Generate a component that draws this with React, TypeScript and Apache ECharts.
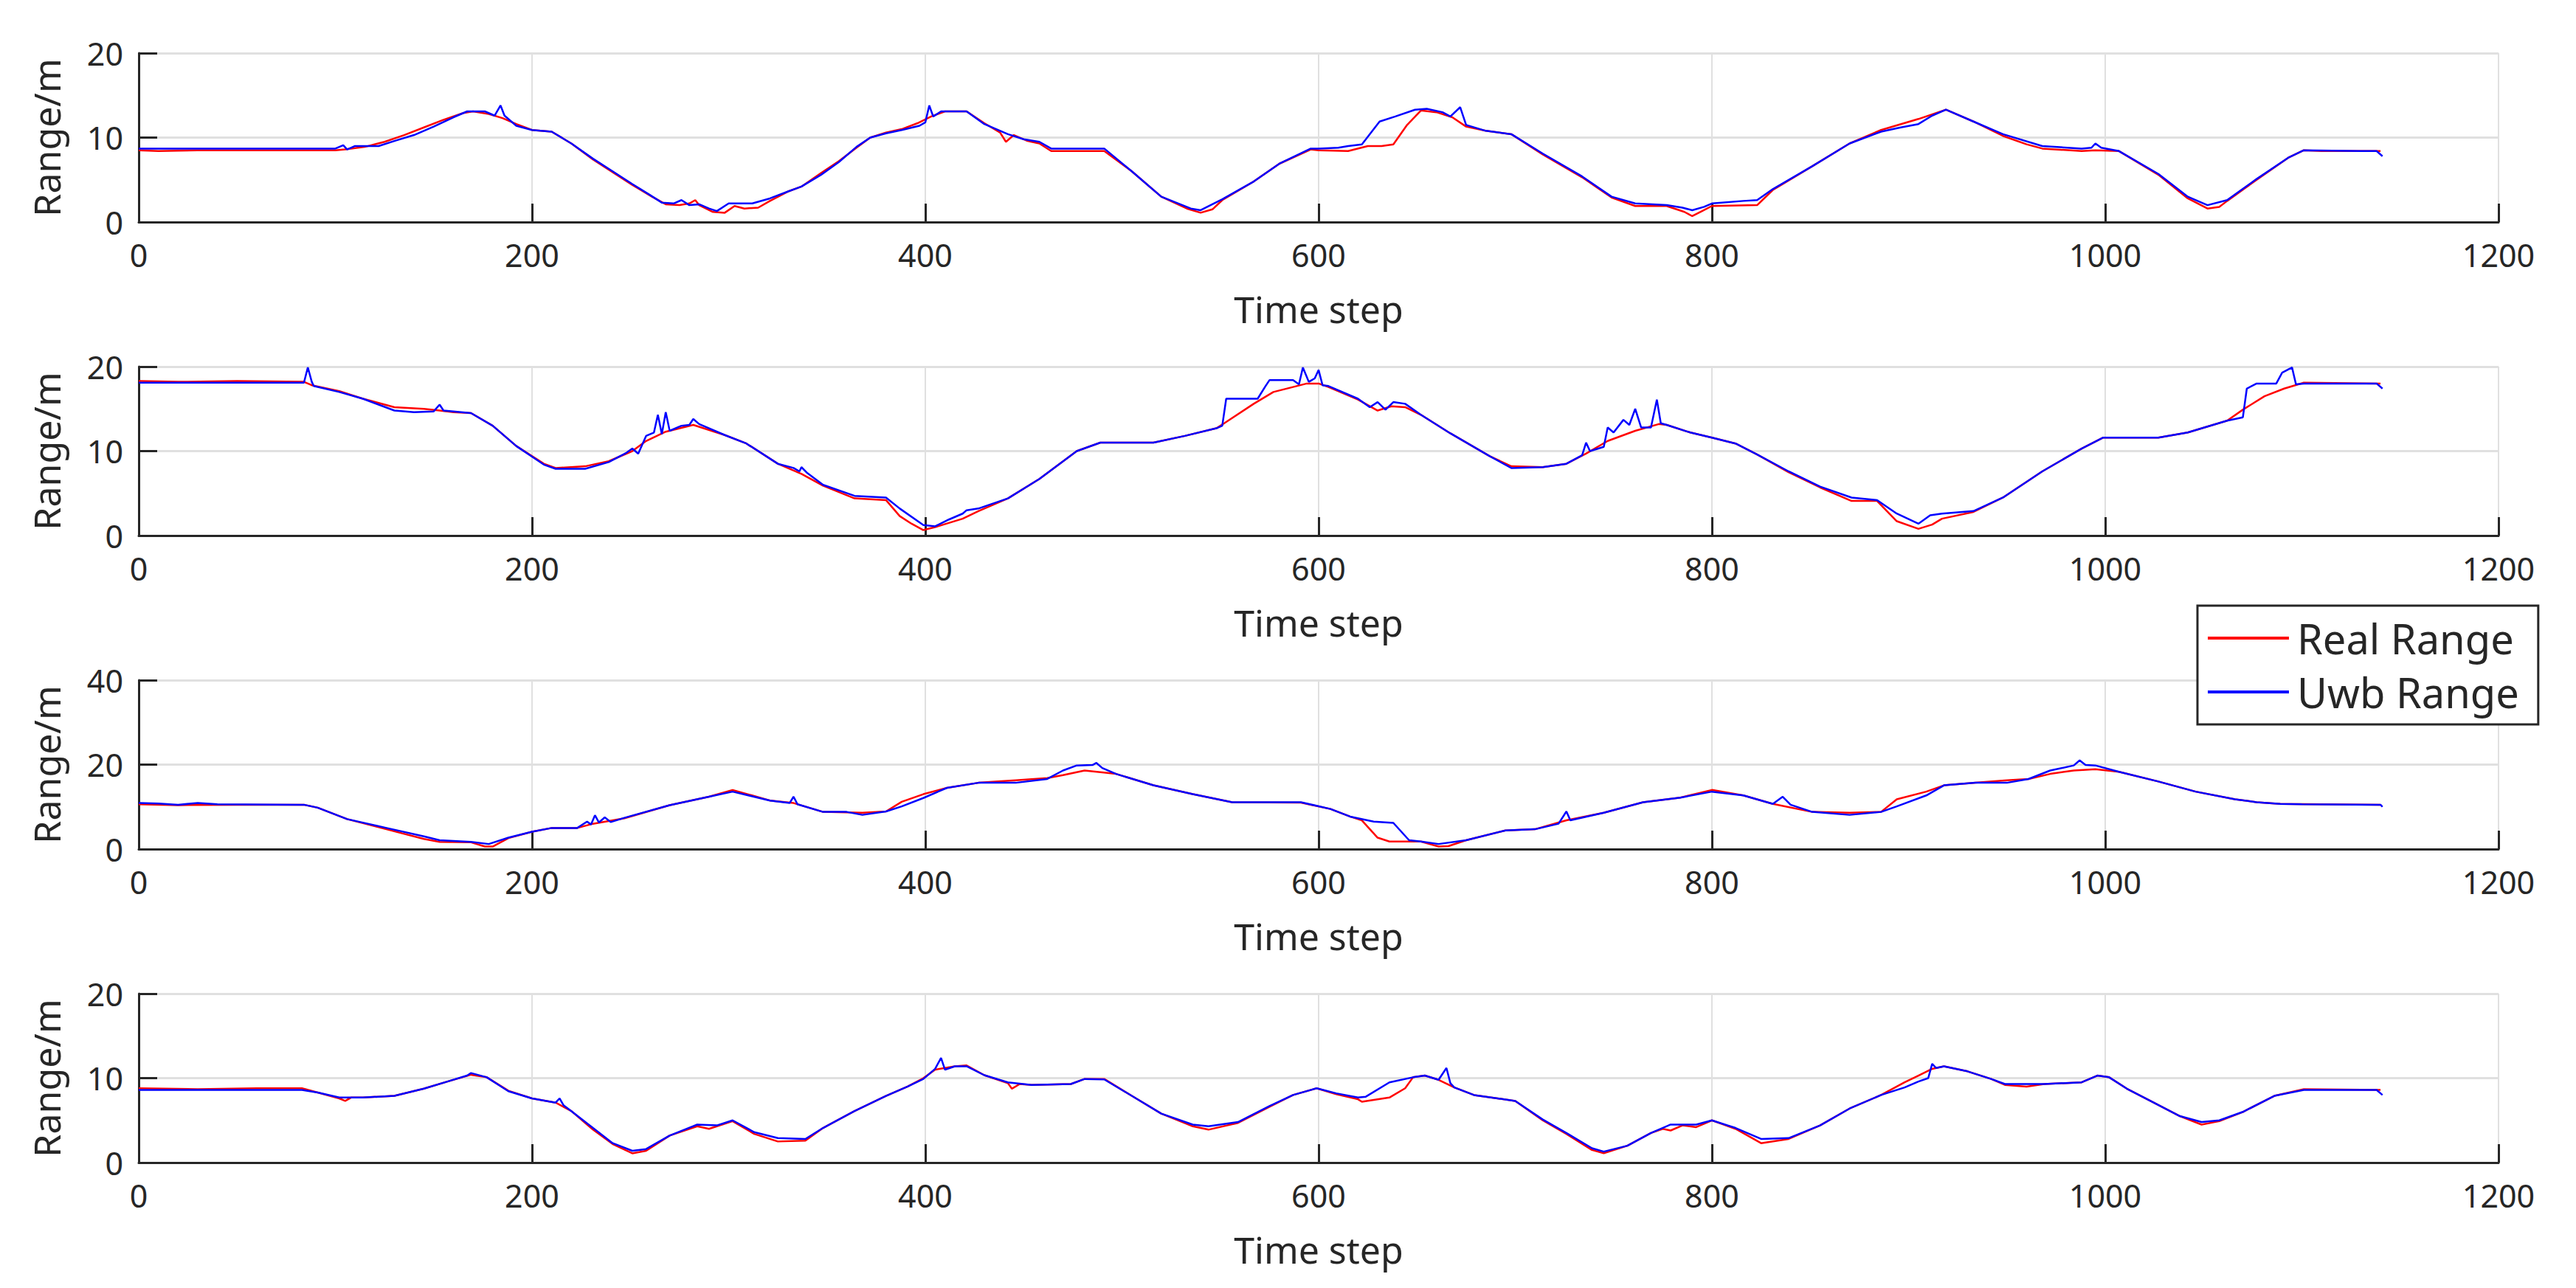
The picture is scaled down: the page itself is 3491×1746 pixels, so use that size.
import React, { useEffect, useRef } from "react";
import * as echarts from "echarts";

// ---------------- data ----------------
const seriesNames = ["Real Range", "Uwb Range"];
const xAxisName = "Time step";
const yAxisName = "Range/m";
const xMin = 0;
const xMax = 1200;
const xInterval = 200;
const yMaxes = [20, 20, 40, 20];
const yIntervals = [10, 10, 20, 10];

const real1 = [[0,8.5],[10,8.4],[30,8.5],[60,8.5],[90,8.5],[100,8.5],[105,8.6],[115,8.9],[125,9.5],[135,10.3],[145,11.2],[155,12.1],[165,12.9],[170,13.1],[178,12.8],[185,12.3],[192,11.6],[200,10.9],[210,10.7],[220,9.3],[231,7.4],[241,5.9],[251,4.4],[261,3.0],[268,2.1],[275,2.0],[280,2.2],[283,2.6],[285,2.0],[292,1.2],[298,1.1],[303,1.9],[308,1.6],[315,1.7],[321,2.5],[330,3.6],[337,4.2],[347,5.8],[356,7.2],[365,8.8],[372,10.0],[380,10.6],[388,11.0],[396,11.7],[403,12.5],[410,13.1],[421,13.1],[430,11.7],[438,10.6],[441,9.5],[445,10.3],[452,9.6],[458,9.3],[464,8.4],[491,8.4],[505,6.0],[520,3.0],[533,1.6],[540,1.1],[546,1.5],[551,2.6],[567,4.8],[580,6.9],[596,8.6],[600,8.5],[615,8.4],[625,9.0],[632,9.0],[638,9.2],[645,11.5],[652,13.2],[660,13.0],[668,12.4],[675,11.3],[685,10.8],[698,10.4],[714,8.0],[734,5.3],[749,2.9],[761,1.9],[777,1.9],[786,1.2],[790,0.7],[795,1.3],[800,1.9],[823,2.0],[831,3.8],[851,6.6],[870,9.3],[886,10.9],[905,12.2],[919,13.3],[933,11.9],[948,10.2],[960,9.2],[968,8.7],[988,8.4],[995,8.5],[1007,8.4],[1027,5.6],[1042,2.8],[1052,1.6],[1058,1.8],[1062,2.5],[1077,5.0],[1093,7.6],[1101,8.5],[1110,8.4],[1140,8.4]];
const uwb1 = [[0,8.7],[30,8.7],[60,8.7],[100,8.7],[104,9.1],[106,8.6],[110,9.0],[122,9.0],[130,9.6],[140,10.3],[150,11.3],[160,12.4],[167,13.1],[176,13.1],[181,12.6],[184,13.8],[186,12.6],[192,11.4],[200,10.9],[210,10.7],[220,9.3],[231,7.5],[241,6.0],[251,4.5],[260,3.2],[266,2.3],[272,2.2],[276,2.6],[280,2.0],[285,2.1],[290,1.6],[294,1.3],[300,2.2],[312,2.2],[321,2.8],[330,3.6],[337,4.2],[347,5.6],[356,7.1],[365,8.9],[372,10.0],[380,10.5],[388,10.9],[397,11.4],[400,11.8],[402,13.8],[404,12.5],[408,13.1],[421,13.1],[430,11.6],[442,10.4],[450,9.8],[458,9.5],[464,8.7],[491,8.7],[505,6.0],[520,3.0],[535,1.6],[540,1.4],[551,2.7],[567,4.8],[580,6.9],[596,8.7],[600,8.7],[610,8.8],[615,9.0],[622,9.2],[631,11.9],[639,12.5],[649,13.3],[655,13.4],[663,13.0],[667,12.5],[672,13.6],[675,11.5],[685,10.8],[698,10.4],[714,8.1],[734,5.4],[749,3.0],[761,2.2],[777,2.0],[785,1.7],[790,1.4],[796,1.8],[800,2.2],[816,2.5],[823,2.6],[831,3.9],[851,6.6],[870,9.3],[886,10.7],[896,11.2],[905,11.6],[912,12.6],[919,13.3],[933,11.9],[948,10.4],[968,9.0],[988,8.7],[993,8.8],[995,9.3],[998,8.8],[1007,8.4],[1027,5.7],[1042,3.0],[1052,2.0],[1062,2.6],[1077,5.1],[1093,7.6],[1101,8.5],[1130,8.4],[1138,8.4],[1141,7.8]];

const real2 = [[0,18.3],[20,18.2],[50,18.3],[84,18.2],[88,17.8],[102,17.1],[114,16.2],[130,15.2],[145,15.0],[153,14.8],[160,14.6],[169,14.5],[180,13.0],[192,10.6],[206,8.5],[212,8.0],[227,8.2],[239,8.8],[251,10.0],[258,11.2],[268,12.3],[282,13.1],[298,11.9],[309,10.9],[325,8.5],[337,7.3],[348,5.9],[364,4.4],[380,4.2],[387,2.3],[393,1.4],[399,0.65],[405,1.0],[419,2.0],[427,2.9],[442,4.4],[458,6.7],[477,10.0],[489,11.0],[516,11.0],[532,11.8],[548,12.7],[552,13.3],[567,15.6],[577,17.0],[594,18.0],[600,18.0],[605,17.6],[620,16.1],[630,14.8],[637,15.3],[644,15.2],[652,14.3],[667,12.1],[687,9.4],[698,8.2],[714,8.1],[726,8.5],[736,9.7],[747,11.2],[761,12.4],[773,13.2],[777,13.1],[789,12.2],[800,11.6],[812,10.9],[823,9.6],[839,7.5],[855,5.7],[871,4.1],[884,4.1],[894,1.7],[905,0.8],[912,1.3],[917,2.0],[933,2.8],[948,4.5],[968,7.6],[988,10.3],[999,11.6],[1027,11.6],[1042,12.2],[1062,13.6],[1070,14.9],[1081,16.5],[1091,17.4],[1101,18.1],[1140,18.0]];
const uwb2 = [[0,18.1],[20,18.1],[50,18.1],[84,18.1],[86,19.9],[88,18.2],[89,17.7],[102,17.0],[114,16.2],[130,14.8],[140,14.6],[150,14.7],[153,15.5],[155,14.8],[169,14.5],[180,13.0],[192,10.6],[206,8.4],[212,7.9],[227,7.9],[239,8.7],[248,9.8],[251,10.3],[254,9.7],[258,11.8],[262,12.2],[264,14.3],[266,12.0],[268,14.6],[270,12.4],[276,13.0],[280,13.1],[282,13.8],[285,13.2],[298,11.9],[309,10.9],[325,8.5],[333,8.0],[336,7.6],[337,8.1],[340,7.4],[348,6.0],[364,4.7],[380,4.5],[387,3.2],[399,1.25],[405,1.1],[412,1.9],[419,2.6],[421,3.0],[427,3.2],[442,4.4],[458,6.7],[477,10.0],[489,11.0],[516,11.0],[532,11.8],[548,12.7],[551,13.0],[553,16.2],[569,16.2],[573,17.7],[575,18.4],[587,18.4],[590,17.9],[592,19.9],[595,18.2],[598,18.6],[600,19.6],[602,17.8],[605,17.7],[620,16.2],[626,15.2],[630,15.8],[634,14.9],[638,15.8],[644,15.6],[652,14.3],[667,12.1],[687,9.4],[698,8.0],[714,8.1],[726,8.5],[734,9.5],[736,11.0],[738,10.0],[745,10.5],[747,12.8],[750,12.2],[755,13.7],[758,13.1],[761,15.0],[764,12.8],[769,12.8],[772,16.1],[774,13.3],[777,13.1],[789,12.2],[800,11.6],[812,10.9],[823,9.6],[839,7.6],[855,5.8],[871,4.5],[884,4.2],[894,2.6],[905,1.4],[911,2.4],[917,2.6],[933,2.9],[948,4.5],[968,7.6],[988,10.3],[999,11.6],[1027,11.6],[1042,12.2],[1062,13.6],[1070,14.0],[1072,17.4],[1077,18.0],[1087,18.0],[1090,19.3],[1095,19.9],[1097,17.9],[1101,18.0],[1138,18.0],[1141,17.4]];

const real3 = [[0,10.6],[20,10.4],[50,10.5],[84,10.5],[91,9.8],[106,7.1],[126,4.7],[145,2.4],[153,1.7],[169,1.6],[176,0.6],[180,0.6],[188,2.6],[200,4.1],[210,5.0],[223,5.0],[231,6.0],[247,7.3],[270,10.4],[290,12.4],[302,14.0],[321,11.5],[333,10.9],[348,8.8],[368,8.6],[380,8.9],[388,11.2],[399,13.0],[411,14.5],[427,15.7],[446,16.3],[462,16.8],[470,17.5],[481,18.6],[497,17.8],[516,15.1],[536,13.0],[556,11.1],[591,11.0],[606,9.5],[616,7.7],[622,6.8],[630,2.7],[636,1.8],[652,1.8],[661,0.6],[666,0.7],[675,2.1],[695,4.4],[710,4.7],[726,6.8],[745,8.6],[765,11.1],[784,12.2],[800,14.0],[816,12.7],[831,10.7],[851,8.8],[870,8.6],[886,8.8],[894,11.8],[909,13.6],[918,15.1],[934,15.7],[950,16.3],[961,16.6],[972,17.8],[984,18.6],[995,18.9],[1007,18.3],[1027,16.0],[1046,13.6],[1066,11.8],[1077,11.1],[1089,10.7],[1140,10.5]];
const uwb3 = [[0,10.9],[10,10.8],[20,10.5],[30,10.9],[40,10.6],[84,10.5],[91,9.8],[106,7.1],[126,5.0],[145,3.0],[153,2.1],[169,1.7],[178,1.2],[188,2.7],[200,4.1],[210,5.0],[223,5.0],[228,6.5],[230,5.8],[232,8.0],[234,6.3],[237,7.5],[240,6.4],[247,7.4],[270,10.4],[290,12.4],[302,13.6],[321,11.5],[331,10.9],[333,12.4],[335,10.6],[348,8.8],[360,8.8],[368,8.1],[380,8.9],[388,10.1],[399,12.1],[411,14.5],[427,15.7],[446,15.7],[462,16.6],[470,18.6],[477,19.8],[485,19.9],[487,20.4],[490,19.2],[497,17.8],[516,15.1],[536,13.0],[556,11.1],[591,11.1],[606,9.5],[616,7.7],[628,6.5],[638,6.2],[646,2.1],[652,1.8],[661,1.2],[675,2.1],[695,4.4],[710,4.7],[722,6.0],[726,8.9],[728,6.8],[745,8.6],[765,11.1],[784,12.2],[800,13.6],[816,12.7],[831,10.7],[836,12.4],[840,10.5],[851,8.8],[870,8.1],[886,8.8],[894,10.1],[909,12.7],[918,15.1],[934,15.7],[950,15.7],[961,16.6],[972,18.6],[984,19.8],[987,21.0],[990,19.9],[995,19.8],[1007,18.3],[1027,16.0],[1046,13.6],[1066,11.8],[1077,11.1],[1089,10.7],[1100,10.6],[1140,10.5],[1141,10.0]];

const real4 = [[0,8.8],[30,8.7],[60,8.8],[83,8.8],[91,8.3],[102,7.6],[105,7.3],[108,7.7],[114,7.7],[130,7.9],[145,8.75],[157,9.6],[169,10.4],[177,10.1],[188,8.5],[200,7.6],[212,7.1],[220,6.1],[231,3.9],[241,2.2],[251,1.1],[258,1.4],[270,3.2],[284,4.3],[290,4.0],[294,4.3],[302,4.9],[313,3.4],[325,2.5],[339,2.6],[348,4.1],[364,6.1],[380,7.9],[391,9.0],[399,10.0],[405,11.0],[415,11.4],[421,11.5],[430,10.35],[442,9.4],[444,8.75],[448,9.3],[454,9.2],[474,9.3],[481,9.9],[491,9.9],[505,7.9],[520,5.8],[536,4.3],[544,3.9],[559,4.7],[575,6.6],[587,8.0],[599,8.8],[609,8.1],[620,7.5],[622,7.2],[636,7.7],[644,8.8],[648,10.1],[654,10.3],[661,9.8],[669,8.9],[679,8.0],[691,7.6],[700,7.3],[714,5.0],[726,3.4],[739,1.5],[745,1.1],[757,2.0],[769,3.5],[775,4.0],[779,3.8],[785,4.4],[792,4.2],[800,5.0],[812,4.0],[825,2.3],[839,2.8],[855,4.4],[870,6.4],[886,8.0],[898,9.5],[905,10.3],[912,11.1],[918,11.4],[930,10.8],[942,9.9],[949,9.2],[960,9.0],[969,9.3],[988,9.5],[996,10.3],[1002,10.1],[1011,8.75],[1023,7.3],[1038,5.5],[1049,4.5],[1058,4.9],[1070,6.0],[1086,7.9],[1101,8.7],[1140,8.6]];
const uwb4 = [[0,8.6],[30,8.6],[60,8.6],[83,8.6],[91,8.3],[102,7.7],[114,7.7],[130,7.9],[145,8.75],[157,9.6],[167,10.3],[169,10.6],[177,10.1],[188,8.45],[200,7.6],[212,7.1],[214,7.6],[216,6.8],[220,6.1],[231,4.1],[241,2.3],[251,1.4],[258,1.6],[270,3.2],[284,4.5],[294,4.4],[302,5.0],[313,3.6],[325,2.9],[339,2.8],[348,4.1],[364,6.1],[380,7.9],[391,9.0],[399,9.9],[405,11.1],[408,12.4],[410,11.0],[415,11.4],[421,11.4],[430,10.35],[442,9.5],[454,9.2],[474,9.3],[481,9.9],[491,9.85],[505,7.9],[520,5.8],[536,4.5],[544,4.3],[559,4.8],[575,6.7],[587,8.0],[599,8.8],[609,8.2],[620,7.7],[624,7.8],[636,9.5],[648,10.1],[654,10.3],[661,9.8],[665,11.2],[667,9.4],[669,8.9],[679,8.0],[691,7.6],[700,7.3],[714,5.1],[726,3.5],[739,1.7],[745,1.3],[757,2.0],[769,3.5],[779,4.5],[792,4.5],[800,5.0],[812,4.1],[825,2.8],[839,2.9],[855,4.4],[870,6.4],[886,8.0],[898,8.9],[905,9.6],[910,10.0],[912,11.7],[914,11.2],[918,11.4],[930,10.8],[942,9.9],[949,9.3],[969,9.3],[988,9.5],[996,10.3],[1002,10.1],[1011,8.75],[1023,7.3],[1038,5.5],[1049,4.8],[1058,5.0],[1070,6.0],[1086,7.9],[1101,8.6],[1138,8.6],[1141,8.0]];

const realSeries = [real1, real2, real3, real4];
const uwbSeries = [uwb1, uwb2, uwb3, uwb4];

// ---------------- layout / style ----------------
const W = 3491;
const H = 1746;
const FONT = "'Noto Sans', 'Open Sans', sans-serif";
const INK = "#262626";
const GRID_COLOR = "#e0e0e0";
const RED = "#ff0000";
const BLUE = "#0000ff";
const gridTops = [72, 497, 922, 1347];
const gridLeft = 188;
const gridRight = 105;
const gridHeight = 229;

const plainNumber = (v: number) => String(v);

function buildOption() {
  const grids = gridTops.map((t) => ({
    left: gridLeft,
    right: gridRight,
    top: t,
    height: gridHeight,
    containLabel: false,
  }));
  const xAxes = gridTops.map((_, i) => ({
    type: "value",
    gridIndex: i,
    min: xMin,
    max: xMax,
    interval: xInterval,
    name: xAxisName,
    nameLocation: "middle",
    nameGap: 93,
    nameTextStyle: { fontSize: 50, color: INK, fontFamily: FONT },
    axisLine: { show: true, onZero: false, lineStyle: { color: INK, width: 3 } },
    axisTick: { show: true, inside: true, length: 25, lineStyle: { color: INK, width: 3 } },
    axisLabel: { color: INK, fontSize: 43, fontFamily: FONT, margin: 23, formatter: plainNumber },
    splitLine: { show: true, lineStyle: { color: GRID_COLOR, width: 2 } },
  }));
  const yAxes = gridTops.map((_, i) => ({
    type: "value",
    gridIndex: i,
    min: 0,
    max: yMaxes[i],
    interval: yIntervals[i],
    name: yAxisName,
    nameLocation: "middle",
    nameGap: 100,
    nameTextStyle: { fontSize: 50, color: INK, fontFamily: FONT },
    axisLine: { show: true, onZero: false, lineStyle: { color: INK, width: 3 } },
    axisTick: { show: true, inside: true, length: 25, lineStyle: { color: INK, width: 3 } },
    axisLabel: { color: INK, fontSize: 43, fontFamily: FONT, margin: 21, formatter: plainNumber },
    splitLine: { show: true, lineStyle: { color: GRID_COLOR, width: 3 } },
  }));
  const series: any[] = [];
  gridTops.forEach((_, i) => {
    series.push({
      type: "line",
      name: seriesNames[0],
      xAxisIndex: i,
      yAxisIndex: i,
      data: realSeries[i],
      symbol: "none",
      showSymbol: false,
      lineStyle: { color: RED, width: 2.5 },
      itemStyle: { color: RED },
      z: 2,
    });
    series.push({
      type: "line",
      name: seriesNames[1],
      xAxisIndex: i,
      yAxisIndex: i,
      data: uwbSeries[i],
      symbol: "none",
      showSymbol: false,
      lineStyle: { color: BLUE, width: 2.5 },
      itemStyle: { color: BLUE },
      z: 3,
    });
  });
  return {
    animation: false,
    backgroundColor: "#ffffff",
    grid: grids,
    xAxis: xAxes,
    yAxis: yAxes,
    legend: {
      data: seriesNames.map((name) => ({ name, icon: "rect" })),
      orient: "vertical",
      left: 2978,
      top: 821,
      padding: [16, 26, 16, 14],
      itemWidth: 110,
      itemHeight: 4,
      itemGap: 17,
      backgroundColor: "#ffffff",
      borderColor: INK,
      borderWidth: 3,
      borderRadius: 0,
      textStyle: { fontSize: 56, color: INK, fontFamily: FONT, padding: [0, 0, 0, 6] },
      z: 10,
    },
    series,
  };
}

export default function App() {
  const ref = useRef<HTMLDivElement>(null);
  useEffect(() => {
    if (!ref.current) return;
    const chart = echarts.init(ref.current, null, { renderer: "svg" });
    chart.setOption(buildOption() as any);
    return () => {
      chart.dispose();
    };
  }, []);
  return (
    <div
      ref={ref}
      style={{ position: "absolute", left: 0, top: 0, width: W, height: H, background: "#ffffff" }}
    />
  );
}
